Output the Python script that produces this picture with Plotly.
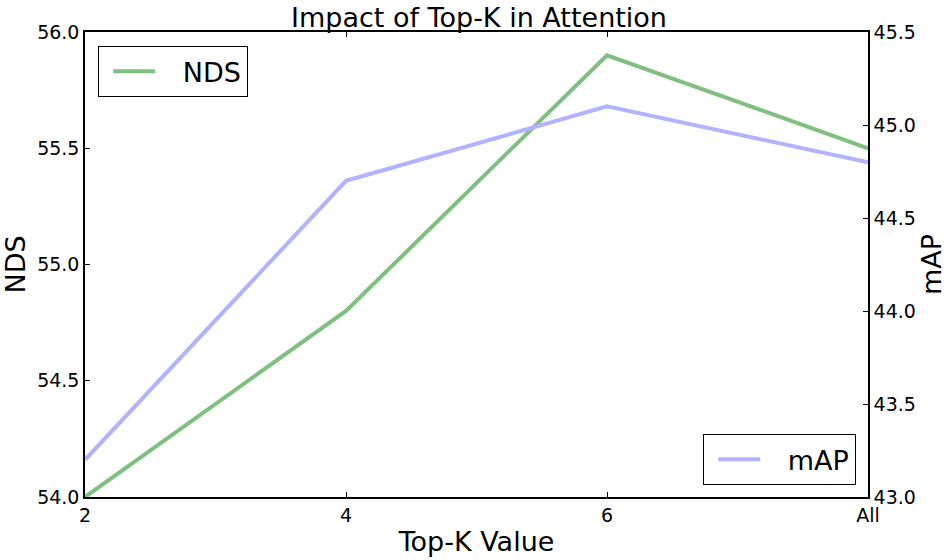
import plotly.graph_objects as go

categories = ["2", "4", "6", "All"]
nds = [54.0, 54.8, 55.9, 55.5]
map_vals = [43.2, 44.7, 45.1, 44.8]
nds_ticks = [54.0, 54.5, 55.0, 55.5, 56.0]
map_ticks = [43.0, 43.5, 44.0, 44.5, 45.0, 45.5]

FONT = "DejaVu Sans"
PAD = "\u00a0\u00a0\u2009"
W, H = 951, 560
fig = go.Figure()
fig.add_trace(go.Scatter(x=categories, y=nds, mode="lines", name=PAD + "NDS",
                         line=dict(color="rgb(127,191,127)", width=4),
                         legend="legend", yaxis="y", showlegend=True))
fig.add_trace(go.Scatter(x=categories, y=map_vals, mode="lines", name=PAD + "mAP",
                         line=dict(color="rgb(178,178,255)", width=4),
                         legend="legend2", yaxis="y2", showlegend=True))

axis_common = dict(showline=True, linecolor="black", linewidth=1.5, ticks="inside",
                   tickcolor="black", ticklen=5, showgrid=False, zeroline=False,
                   automargin=False,
                   tickfont=dict(family=FONT, size=19, color="black"))
title_font = dict(family=FONT, size=27, color="black")

fig.update_layout(
    width=W, height=H,
    margin=dict(l=85, r=83, t=32, b=63),
    plot_bgcolor="white", paper_bgcolor="white",
    showlegend=True,
    title=dict(text="Impact of Top-K in Attention", x=479 / W, xanchor="center", xref="container",
               yref="container", y=1 - 18 / H, yanchor="middle",
               font=dict(family=FONT, size=27, color="black")),
    xaxis=dict(type="category", range=[0, 3], mirror="ticks",
               title=dict(text="Top-K Value", font=title_font, standoff=8),
               **axis_common),
    yaxis=dict(range=[54.0, 56.0], tickvals=nds_ticks, ticktext=[f"{v:.1f}" for v in nds_ticks],
               title=dict(text="NDS", font=title_font, standoff=11),
               **axis_common),
    yaxis2=dict(range=[43.0, 45.5], tickvals=map_ticks, ticktext=[f"{v:.1f}" for v in map_ticks],
                overlaying="y", side="right",
                title=dict(text="mAP", font=title_font, standoff=7),
                **axis_common),
    legend=dict(x=13 / 783, y=1 - 14 / 465, xanchor="left", yanchor="top", bordercolor="black",
                borderwidth=1.2, bgcolor="white", font=dict(family=FONT, size=27, color="black"),
                itemwidth=42, indentation=9),
    legend2=dict(x=1 - 12 / 783, y=12 / 465, xanchor="right", yanchor="bottom", bordercolor="black",
                 borderwidth=1.2, bgcolor="white", font=dict(family=FONT, size=27, color="black"),
                 itemwidth=42, indentation=9),
)
fig.write_html("out.html", config={"displayModeBar": False},
               post_script="document.body.style.margin='0';")
